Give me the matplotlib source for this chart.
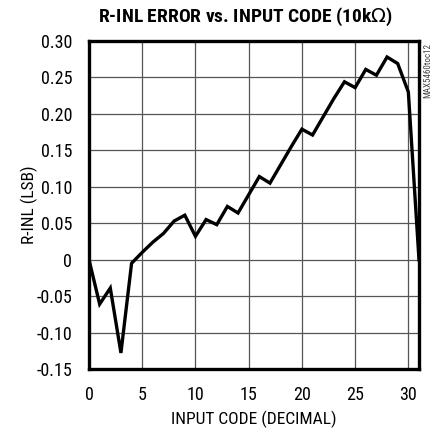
import matplotlib.pyplot as plt
from matplotlib.ticker import FixedLocator

plt.rcParams['font.family'] = ['Roboto Condensed', 'DejaVu Sans']

codes = list(range(32))
rinl = [0.0, -0.061, -0.039, -0.128, -0.005, 0.010, 0.024, 0.036, 0.053, 0.061,
        0.032, 0.055, 0.048, 0.073, 0.064, 0.089, 0.114, 0.105, 0.130, 0.155,
        0.179, 0.171, 0.196, 0.221, 0.244, 0.236, 0.261, 0.253, 0.278, 0.269,
        0.230, 0.0]

xticks = [0, 5, 10, 15, 20, 25, 30]
yticks = [-0.15, -0.10, -0.05, 0, 0.05, 0.10, 0.15, 0.20, 0.25, 0.30]
ylabels = ['-0.15', '-0.10', '-0.05', '0', '0.05', '0.10', '0.15', '0.20', '0.25', '0.30']

fig = plt.figure(figsize=(4.38, 4.34), dpi=100)
ax = fig.add_axes([0.2032, 0.1498, 0.7534, 0.7558])

ax.plot(codes, rinl, color='black', lw=2.4, solid_joinstyle='miter')
ax.set_xlim(0, 31)
ax.set_ylim(-0.15, 0.30)
ax.xaxis.set_major_locator(FixedLocator(xticks))
ax.set_yticks(yticks)
ax.set_yticklabels(ylabels)
ax.grid(True, color='#555555', lw=0.9)
ax.tick_params(length=0, labelsize=13)
ax.tick_params(axis='x', pad=12)
ax.tick_params(axis='y', pad=12)
for s in ax.spines.values():
    s.set_linewidth(2.4)
    s.set_color('black')

ax.set_xlabel('INPUT CODE (DECIMAL)', fontsize=12.5, labelpad=5)
ax.set_ylabel('R-INL (LSB)', fontsize=12.5, labelpad=-1)
fig.text(0.56, 0.962, 'R-INL ERROR vs. INPUT CODE (10k$\\Omega$)', ha='center', va='center',
         fontsize=14, fontweight='bold')
fig.text(0.976, 0.9, 'MAX5460toc12', rotation=90, ha='center', va='top', fontsize=6.5, color='#444444')

fig.savefig('out.png', dpi=100)
